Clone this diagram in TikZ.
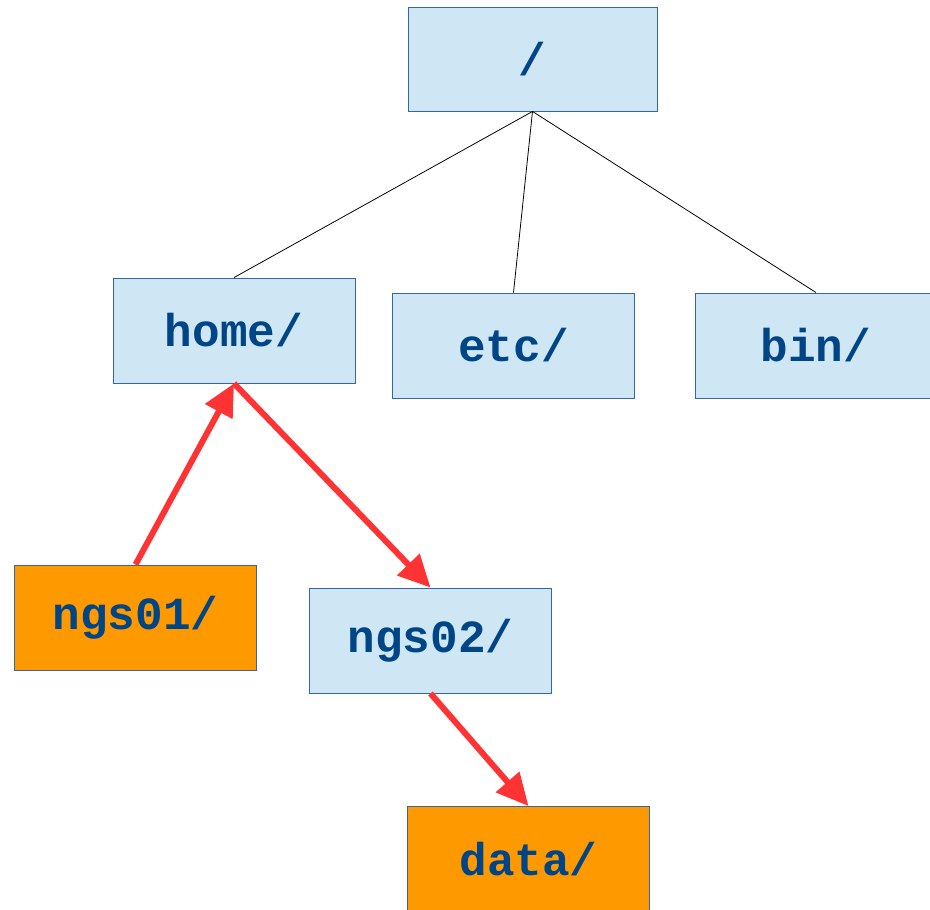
\documentclass[tikz,border=0pt]{standalone}
\usepackage{fontspec}
\setmonofont{Liberation Mono}
\usetikzlibrary{arrows.meta}
\definecolor{boxblue}{HTML}{CFE7F5}
\definecolor{boxline}{HTML}{3465A4}
\definecolor{txtblue}{HTML}{004586}
\definecolor{orng}{HTML}{FF9900}
\definecolor{redarr}{HTML}{FF3333}
\tikzset{
  dirbox/.style={draw=boxline, line width=0.9pt, fill=boxblue, minimum width=242pt, minimum height=105pt,
    inner sep=0pt, font=\fontsize{46}{50}\selectfont\ttfamily\bfseries, text=txtblue},
  hilite/.style={dirbox, fill=orng},
  treeline/.style={black, line width=0.8pt},
  redlink/.style={redarr, line width=6pt, -{Triangle[length=32pt,width=30pt]}, shorten >=0pt}
}
\begin{document}
\begin{tikzpicture}[x=1pt,y=-1pt]
\useasboundingbox (0,0) rectangle (930,910);
\clip (0,0) rectangle (930,910);
\node[dirbox, minimum width=249pt, minimum height=104pt] (root) at (532.5,59) {/};
\node[dirbox] (home) at (234,330.5) {home/};
\node[dirbox] (etc) at (513.5,345.5) {etc/};
\node[dirbox] (bin) at (816,345.5) {bin/};
\node[hilite] (ngs01) at (135.5,617.5) {ngs01/};
\node[dirbox] (ngs02) at (430.5,640.5) {ngs02/};
\node[hilite] (data) at (528.5,859) {data/};
\draw[treeline] (root.south) -- (home.north);
\draw[treeline] (root.south) -- (etc.north);
\draw[treeline] (root.south) -- (bin.north);
\draw[redlink] (ngs01.north) -- (home.south);
\draw[redlink] (home.south) -- (ngs02.north);
\draw[redlink] (ngs02.south) -- (data.north);
\end{tikzpicture}
\end{document}
